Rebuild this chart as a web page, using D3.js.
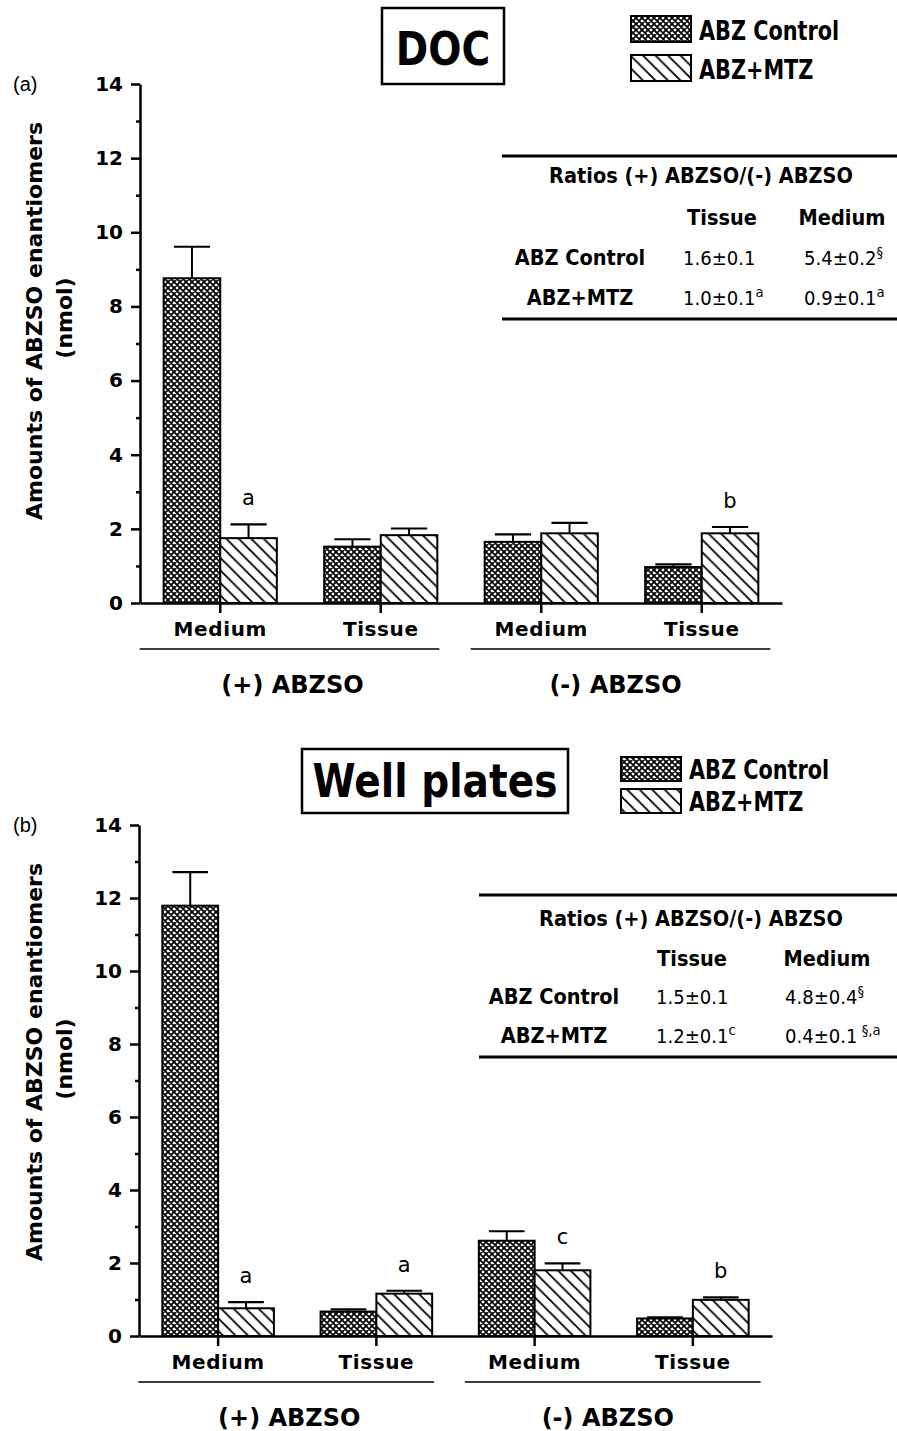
<!DOCTYPE html>
<html>
<head>
<meta charset="utf-8">
<script src="https://cdn.jsdelivr.net/npm/d3@7"></script>
<style>
  body { margin: 0; background: #fff; }
  svg { display: block; }
</style>
</head>
<body>
<svg id="chart" width="897" height="1431"></svg>
<script>
// ---- shared labels ----
const categories = ["Medium", "Tissue", "Medium", "Tissue"];
const groupLabels = ["(+) ABZSO", "(-) ABZSO"];
const seriesNames = ["ABZ Control", "ABZ+MTZ"];
const yMajorTicks = [0, 2, 4, 6, 8, 10, 12, 14];
const yMinorTicks = [1, 3, 5, 7, 9, 11, 13];
const yLabelLines = ["Amounts of ABZSO enantiomers", "(nmol)"];

// ---- panel (a): DOC ----
const docControl    = [8.76, 1.52, 1.65, 0.97];
const docControlErr = [0.85, 0.20, 0.20, 0.07];
const docMtz        = [1.75, 1.83, 1.88, 1.88];
const docMtzErr     = [0.37, 0.18, 0.28, 0.17];
const docMtzLetters = ["a", "", "", "b"];

// ---- panel (b): Well plates ----
const wellControl    = [11.79, 0.67, 2.61, 0.48];
const wellControlErr = [0.92, 0.06, 0.26, 0.03];
const wellMtz        = [0.76, 1.16, 1.80, 0.99];
const wellMtzErr     = [0.17, 0.08, 0.19, 0.07];
const wellMtzLetters = ["a", "a", "c", "b"];

// ---- ratio tables ----
const ratioTitle = "Ratios (+) ABZSO/(-) ABZSO";
const ratioColumns = ["Tissue", "Medium"];
const ratioRows = ["ABZ Control", "ABZ+MTZ"];
const docTissue = ["1.6±0.1", "1.0±0.1"];
const docTissueSup = ["", "a"];
const docMedium = ["5.4±0.2", "0.9±0.1"];
const docMediumSup = ["§", "a"];
const wellTissue = ["1.5±0.1", "1.2±0.1"];
const wellTissueSup = ["", "c"];
const wellMedium = ["4.8±0.4", "0.4±0.1"];
const wellMediumSup = ["§", " §,a"];

const FONT = "'DejaVu Sans', Verdana, sans-serif";
const svg = d3.select("#chart");

// ---- fill patterns ----
const defs = svg.append("defs");
function linesPath(w, dir) {
  // parallel diagonals repeated so tile edges join cleanly
  const cs = dir > 0 ? [-w, 0, w] : [0, w, 2 * w];
  return cs.map(c => dir > 0
    ? `M${-w},${-w + c}L${2 * w},${2 * w + c}`
    : `M${-w},${w + c}L${2 * w},${-2 * w + c}`).join("");
}
const cw = 6;
const cross = defs.append("pattern").attr("id", "crossFill")
  .attr("patternUnits", "userSpaceOnUse").attr("width", cw).attr("height", cw);
cross.append("rect").attr("width", cw).attr("height", cw).attr("fill", "#fff");
cross.append("path").attr("d", linesPath(cw, 1) + linesPath(cw, -1))
  .attr("stroke", "#000").attr("stroke-width", 1.7).attr("fill", "none");

const hw = 12.5;
const hatch = defs.append("pattern").attr("id", "hatchFill")
  .attr("patternUnits", "userSpaceOnUse").attr("width", hw).attr("height", hw);
hatch.append("rect").attr("width", hw).attr("height", hw).attr("fill", "#fff");
hatch.append("path").attr("d", linesPath(hw, 1))
  .attr("stroke", "#000").attr("stroke-width", 1.8).attr("fill", "none");

const fills = ["url(#crossFill)", "url(#hatchFill)"];

// text helper with horizontal compression
function ctext(parent, x, y, str, o = {}) {
  const g = parent.append("g").attr("transform", `translate(${x},${y})`);
  const t = g.append("text")
    .attr("transform", `scale(${o.sx || 1},1)`)
    .attr("font-family", FONT)
    .attr("font-weight", o.weight || "bold")
    .attr("font-size", o.size || 20)
    .attr("text-anchor", o.anchor || "start")
    .attr("fill", "#000")
    .text(str);
  return t;
}

function drawPanel(p) {
  const g = svg.append("g");
  const x0 = d3.scaleBand().domain(d3.range(categories.length))
    .range(p.xRange).paddingInner(0.295).paddingOuter(0.1475);
  const x1 = d3.scaleBand().domain(seriesNames).range([0, x0.bandwidth()]);
  const y = d3.scaleLinear().domain([0, 14]).range(p.yRange);

  // bars
  const rows = categories.map((c, i) => [
    { s: seriesNames[0], i, v: p.control[i], e: p.controlErr[i], letter: "" },
    { s: seriesNames[1], i, v: p.mtz[i], e: p.mtzErr[i], letter: p.mtzLetters[i] }
  ]).flat();

  const bars = g.append("g");
  rows.forEach(d => {
    const bx = x0(d.i) + x1(d.s);
    const bw = x1.bandwidth();
    const cx = bx + bw / 2;
    // error bar (upper whisker)
    bars.append("line").attr("x1", cx).attr("x2", cx)
      .attr("y1", y(d.v)).attr("y2", y(d.v + d.e))
      .attr("stroke", "#000").attr("stroke-width", 2);
    bars.append("line").attr("x1", cx - bw * 0.32).attr("x2", cx + bw * 0.32)
      .attr("y1", y(d.v + d.e)).attr("y2", y(d.v + d.e))
      .attr("stroke", "#000").attr("stroke-width", 2.2);
    bars.append("rect")
      .attr("x", bx).attr("y", y(d.v))
      .attr("width", bw).attr("height", y(0) - y(d.v))
      .attr("fill", fills[seriesNames.indexOf(d.s)])
      .attr("stroke", "#000").attr("stroke-width", 2);
    if (d.letter) {
      g.append("text").attr("x", cx).attr("y", y(d.v + d.e) - 19)
        .attr("text-anchor", "middle").attr("font-family", FONT)
        .attr("font-size", 21).attr("fill", "#000").text(d.letter);
    }
  });

  // y axis
  g.append("g").attr("transform", `translate(${p.xRange[0]},0)`)
    .call(d3.axisLeft(y).tickValues(yMajorTicks).tickFormat(d3.format("d"))
      .tickSize(9).tickSizeOuter(0).tickPadding(8));
  g.append("g").attr("transform", `translate(${p.xRange[0]},0)`)
    .call(d3.axisLeft(y).tickValues(yMinorTicks).tickFormat("")
      .tickSize(4).tickSizeOuter(0))
    .call(s => s.select(".domain").remove());

  // x axis
  const xAxis = g.append("g").attr("transform", `translate(0,${y(0)})`)
    .call(d3.axisBottom(x0).tickFormat(i => categories[i])
      .tickSize(10).tickSizeOuter(0).tickPadding(9));

  g.selectAll(".domain").attr("stroke-width", 2.5);
  g.selectAll(".tick line").attr("stroke-width", 2.5);
  g.selectAll(".tick text").attr("font-family", FONT)
    .attr("font-weight", "bold").attr("font-size", 20).attr("fill", "#000");
  xAxis.selectAll(".tick text").attr("letter-spacing", 0.6);

  // category group underlines and labels
  const bw = x0.bandwidth();
  const spans = [
    [x0(0) - 24, x0(1) + bw + 2, 3],
    [x0(2) - 14, x0(3) + bw + 12, -5]
  ];
  spans.forEach((s, k) => {
    g.append("line").attr("x1", s[0]).attr("x2", s[1])
      .attr("y1", y(0) + 46).attr("y2", y(0) + 46)
      .attr("stroke", "#000").attr("stroke-width", 1.6);
    g.append("text").attr("x", (s[0] + s[1]) / 2 + s[2])
      .attr("y", y(0) + 90).attr("text-anchor", "middle")
      .attr("font-family", FONT).attr("font-weight", "bold")
      .attr("font-size", 24).attr("fill", "#000").text(groupLabels[k]);
  });

  // y axis title
  yLabelLines.forEach((t, k) => {
    g.append("text")
      .attr("transform", `translate(${k === 0 ? 42 : 72},${y(14) + (k === 0 ? 237 : 234)}) rotate(-90)`)
      .attr("text-anchor", "middle").attr("font-family", FONT)
      .attr("font-weight", "bold").attr("font-size", 22).attr("fill", "#000")
      .text(t);
  });

  // panel tag
  g.append("text").attr("x", 13).attr("y", y(14) + 7)
    .attr("font-family", "'Liberation Sans', Arial, sans-serif")
    .attr("font-size", 20).attr("fill", "#000").text(p.tag);

  // title box
  const h = p.header;
  g.append("rect").attr("x", h.box[0]).attr("y", h.box[1])
    .attr("width", h.box[2] - h.box[0]).attr("height", h.box[3] - h.box[1])
    .attr("fill", "#fff").attr("stroke", "#000").attr("stroke-width", 2.5);
  ctext(g, (h.box[0] + h.box[2]) / 2, h.titleBase, p.title,
    { size: 46, sx: 0.85, anchor: "middle" });

  // legend
  seriesNames.forEach((s, k) => {
    const sy = h.legY[k];
    g.append("rect").attr("x", h.legX).attr("y", sy)
      .attr("width", 60).attr("height", h.legH)
      .attr("fill", fills[k]).attr("stroke", "#000").attr("stroke-width", 2);
    ctext(g, h.legX + 68, sy + h.legH - 2, s, { size: 26, sx: 0.8 });
  });

  // ratio table
  const t = p.table;
  [t.top, t.bottom].forEach(ry => {
    g.append("line").attr("x1", t.left).attr("x2", 897)
      .attr("y1", ry).attr("y2", ry)
      .attr("stroke", "#000").attr("stroke-width", 3);
  });
  ctext(g, t.titleX, t.titleY, ratioTitle, { size: 22, sx: 0.88, anchor: "middle" });
  ratioColumns.forEach((c, k) => {
    ctext(g, t.colX[k], t.headY, c, { size: 22, sx: 0.88, anchor: "middle" });
  });
  ratioRows.forEach((r, k) => {
    ctext(g, t.labelX, t.rowY[k], r, { size: 22, sx: 0.88, anchor: "middle" });
    [[p.tissue, p.tissueSup], [p.medium, p.mediumSup]].forEach((col, c) => {
      const tx = ctext(g, t.valX[c], t.rowY[k], "", { size: 19, weight: "normal", sx: 0.95 });
      tx.attr("xml:space", "preserve");
      tx.append("tspan").text(col[0][k]);
      if (col[1][k]) {
        tx.append("tspan").attr("dy", -8).attr("font-size", 14).text(col[1][k]);
      }
    });
  });
}

drawPanel({
  tag: "(a)", title: "DOC",
  control: docControl, controlErr: docControlErr,
  mtz: docMtz, mtzErr: docMtzErr, mtzLetters: docMtzLetters,
  xRange: [140, 782], yRange: [603, 84],
  header: { box: [382, 8, 504, 84], titleBase: 65, legX: 631, legY: [16, 55], legH: 26 },
  tissue: docTissue, tissueSup: docTissueSup, medium: docMedium, mediumSup: docMediumSup,
  table: { left: 502, top: 156, bottom: 319, titleX: 701, titleY: 183,
           colX: [722, 842], headY: 225, labelX: 580, rowY: [265, 305], valX: [683, 804] }
});

drawPanel({
  tag: "(b)", title: "Well plates",
  control: wellControl, controlErr: wellControlErr,
  mtz: wellMtz, mtzErr: wellMtzErr, mtzLetters: wellMtzLetters,
  xRange: [139, 772], yRange: [1336, 825],
  header: { box: [302, 749, 568, 813], titleBase: 797, legX: 621, legY: [757, 789], legH: 24 },
  tissue: wellTissue, tissueSup: wellTissueSup, medium: wellMedium, mediumSup: wellMediumSup,
  table: { left: 479, top: 895, bottom: 1057, titleX: 691, titleY: 926,
           colX: [692, 827], headY: 966, labelX: 554, rowY: [1004, 1043], valX: [656, 785] }
});
</script>
</body>
</html>
